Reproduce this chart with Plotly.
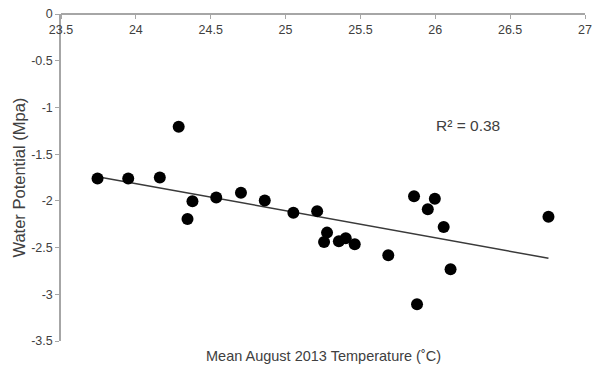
import numpy as np
import plotly.graph_objects as go

temperature = [23.744, 23.949, 24.160, 24.286, 24.345, 24.378, 24.537, 24.702, 24.861,
               25.052, 25.211, 25.257, 25.277, 25.356, 25.402, 25.462, 25.686, 25.858,
               25.878, 25.950, 25.997, 26.056, 26.102, 26.756]
water_potential = [-1.761, -1.761, -1.750, -1.206, -2.195, -2.003, -1.964, -1.914, -1.996,
                   -2.127, -2.110, -2.441, -2.340, -2.433, -2.401, -2.465, -2.583, -1.950,
                   -3.106, -2.089, -1.978, -2.281, -2.732, -2.170]
x_ticks = [23.5, 24, 24.5, 25, 25.5, 26, 26.5, 27]
y_ticks = [0, -0.5, -1, -1.5, -2, -2.5, -3, -3.5]
r2_label = "R² = 0.38"

x = np.array(temperature)
y = np.array(water_potential)
slope, intercept = np.polyfit(x, y, 1)
fit_x = [x.min(), x.max()]
fit_y = [slope * v + intercept for v in fit_x]

font = "Liberation Sans, Arial, sans-serif"
grey_text = "#404040"
axis_col = "#a6a6a6"

fig = go.Figure()
fig.add_trace(go.Scatter(x=fit_x, y=fit_y, mode="lines",
                         line=dict(color="#3a3a3a", width=1.5), showlegend=False))
fig.add_trace(go.Scatter(x=temperature, y=water_potential, mode="markers",
                         marker=dict(color="black", size=12), showlegend=False))

fig.update_layout(
    width=599, height=368,
    margin=dict(l=61, r=7, t=13, b=27),
    paper_bgcolor="white", plot_bgcolor="white",
    font=dict(family=font, color=grey_text, size=12),
    xaxis=dict(range=[23.5, 27], tickvals=x_ticks, ticktext=[f"{v:g}" for v in x_ticks],
               anchor="free", position=1, side="bottom",
               showline=True, linecolor=axis_col, linewidth=1.5,
               ticks="outside", ticklen=4, tickcolor=axis_col,
               showgrid=False, zeroline=False,
               tickfont=dict(size=12.5, color=grey_text)),
    yaxis=dict(range=[-3.5, 0], tickvals=y_ticks, ticktext=[f"{v:g}" for v in y_ticks],
               showline=True, linecolor=axis_col, linewidth=1.5,
               ticks="outside", ticklen=4, tickcolor=axis_col,
               showgrid=False, zeroline=False,
               tickfont=dict(size=12.5, color=grey_text)),
    annotations=[
        dict(text="Mean August 2013 Temperature (˚C)", xref="paper", yref="paper",
             x=0.5, y=-0.045, xanchor="center", yanchor="middle", showarrow=False,
             font=dict(size=14.5, color=grey_text)),
        dict(text="Water Potential (Mpa)", xref="paper", yref="paper",
             x=-0.082, y=0.5, xanchor="center", yanchor="middle", showarrow=False,
             textangle=-90, font=dict(size=16.5, color=grey_text)),
        dict(text=r2_label, xref="x", yref="y", x=26.22, y=-1.195,
             xanchor="center", yanchor="middle", showarrow=False,
             font=dict(size=15.5, color=grey_text)),
    ],
)

fig.write_html("out.html")
